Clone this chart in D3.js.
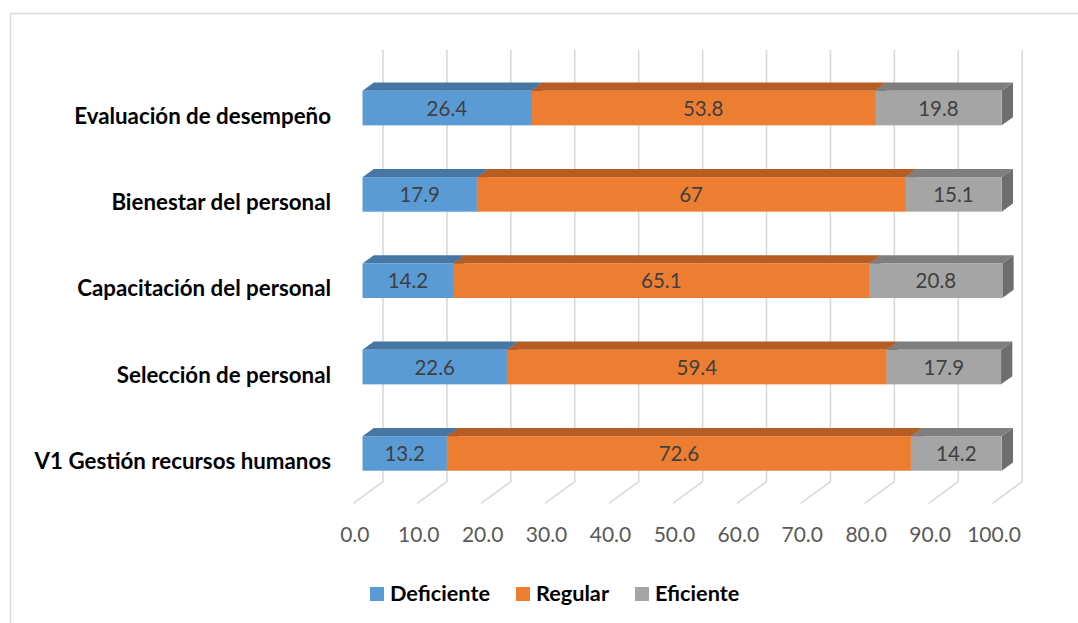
<!DOCTYPE html>
<html><head><meta charset="utf-8">
<script src="https://cdn.jsdelivr.net/npm/d3@7"></script>
<style>html,body{margin:0;padding:0;background:#fff;}svg{display:block;}</style>
</head><body><svg id="c" width="1078" height="623"></svg>
<script>
const categories = ["Evaluación de desempeño","Bienestar del personal","Capacitación del personal","Selección de personal","V1 Gestión recursos humanos"];
const seriesNames = ["Deficiente","Regular","Eficiente"];
const deficiente = [26.4, 17.9, 14.2, 22.6, 13.2];
const regular    = [53.8, 67, 65.1, 59.4, 72.6];
const eficiente  = [19.8, 15.1, 20.8, 17.9, 14.2];
const tickValues = [0,10,20,30,40,50,60,70,80,90,100];
const tickLabels = ["0.0","10.0","20.0","30.0","40.0","50.0","60.0","70.0","80.0","90.0","100.0"];

const frontColors = ["#5B9BD5","#ED7D31","#A5A5A5"];
const topColors   = ["#4676A4","#B55D22","#7E7E7E"];
const sideColors  = ["#3E6A93","#A9561F","#6E6E6E"];

const svg = d3.select("#c");
// chart border
svg.append("path").attr("d","M10.5,623 V13.5 H1078").attr("fill","none").attr("stroke","#D9D9D9").attr("stroke-width",1.5);

// oblique 3D projection: depth vector
const DX = 29.7, DY = -21.6;
const x = d3.scaleLinear().domain([0,100]).range([353.3, 992.5]);
const y = d3.scaleBand().domain(categories).range([71.6, 503.3]).paddingInner(0.6).paddingOuter(0.3);
const P = (v, yy, d) => [x(v) + d*DX, yy + d*DY];

// gridlines (back wall + floor)
const grid = svg.append("g").attr("stroke","#D9D9D9").attr("stroke-width",1.6).attr("fill","none");
tickValues.forEach(v => {
  const b = P(v, 503.3, 1), t = P(v, 71.6, 1), f = P(v, 503.3, 0);
  grid.append("path").attr("d", `M${t[0]},${t[1]} L${b[0]},${b[1]} L${f[0]},${f[1]}`);
});

// tick labels
const tk = svg.append("g").attr("font-family","Lato, 'Open Sans', sans-serif").attr("font-size",21).attr("fill","#595959").attr("text-anchor","middle");
tickValues.forEach((v,i) => {
  tk.append("text").attr("x", x(v)+1.5).attr("y", 542).text(tickLabels[i]);
});

// bars
const d0 = 0.31, d1 = 0.69;
const bars = svg.append("g");
const series = [deficiente, regular, eficiente];
categories.forEach((c, ci) => {
  const yt = y(c), yb = y(c) + y.bandwidth();
  let acc = 0;
  const segs = series.map((s, si) => { const a = acc; acc += s[ci]; return {si, a, b: acc, v: s[ci]}; });
  const g = bars.append("g");
  const poly = pts => pts.map(p => p.join(",")).join(" ");
  segs.forEach(sg => {
    g.append("polygon").attr("points", poly([P(sg.b,yt,d0),P(sg.b,yt,d1),P(sg.b,yb,d1),P(sg.b,yb,d0)])).attr("fill", sideColors[sg.si]);
    g.append("polygon").attr("points", poly([P(sg.a,yt,d0),P(sg.a,yt,d1),P(sg.b,yt,d1),P(sg.b,yt,d0)])).attr("fill", topColors[sg.si]);
    const f0 = P(sg.a, yt, d0), f1 = P(sg.b, yb, d0);
    g.append("rect").attr("x", f0[0]).attr("y", f0[1]).attr("width", f1[0]-f0[0]).attr("height", f1[1]-f0[1]).attr("fill", frontColors[sg.si]);
  });
  segs.forEach(sg => {
    const f0 = P(sg.a, yt, d0), f1 = P(sg.b, yb, d0);
    g.append("text").attr("x", (f0[0]+f1[0])/2).attr("y", (f0[1]+f1[1])/2 + 7.5)
      .attr("text-anchor","middle").attr("font-family","Lato, 'Open Sans', sans-serif").attr("font-size",20.5).attr("fill","#404040")
      .text(String(sg.v));
  });
});

// category labels
const cl = svg.append("g").attr("font-family","Lato, 'Open Sans', sans-serif").attr("font-weight","bold").attr("font-size",22.3).attr("fill","#000").attr("text-anchor","end");
categories.forEach(c => {
  cl.append("text").attr("x", 331).attr("y", y(c) + y.bandwidth()/2 + 9).text(c);
});

// legend
const legX = [370, 516, 635];
const lg = svg.append("g").attr("font-family","Lato, 'Open Sans', sans-serif").attr("font-weight","bold").attr("font-size",21.7).attr("fill","#000");
seriesNames.forEach((n,i) => {
  lg.append("rect").attr("x", legX[i]).attr("y", 587).attr("width", 14).attr("height", 14).attr("fill", frontColors[i]);
  lg.append("text").attr("x", legX[i] + 20).attr("y", 601).text(n);
});
</script></body></html>
